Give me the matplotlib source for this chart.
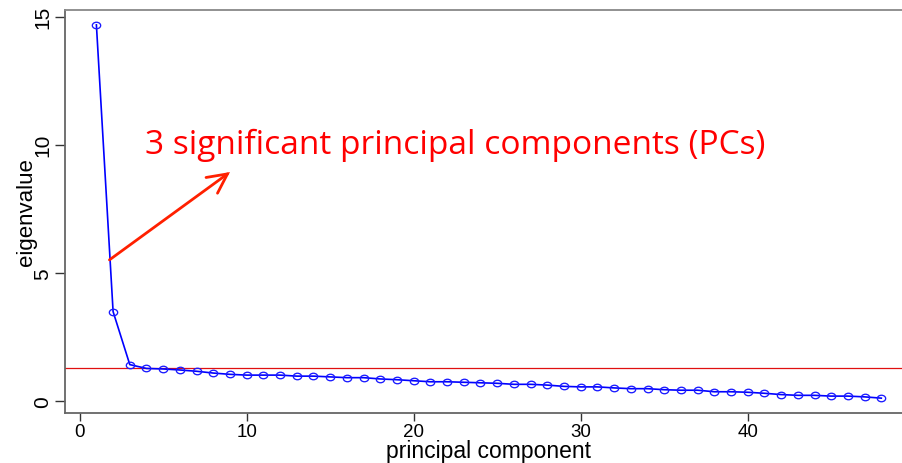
import numpy as np
import matplotlib
matplotlib.use("Agg")
import matplotlib.pyplot as plt
from matplotlib.path import Path

# ---- data ----
components = list(range(1, 49))
eigenvalues = [14.68, 3.48, 1.41, 1.26, 1.24, 1.20, 1.15, 1.08, 1.03, 1.00,
               1.00, 1.00, 0.96, 0.96, 0.93, 0.90, 0.90, 0.85, 0.82, 0.78,
               0.74, 0.74, 0.72, 0.70, 0.68, 0.64, 0.64, 0.61, 0.56, 0.54,
               0.54, 0.50, 0.47, 0.47, 0.43, 0.41, 0.41, 0.35, 0.35, 0.33,
               0.29, 0.24, 0.21, 0.21, 0.18, 0.18, 0.15, 0.10]
threshold = 1.27
x_ticks = [0, 10, 20, 30, 40]
y_ticks = [0, 5, 10, 15]
annotation_text = "3 significant principal components (PCs)"
arrow_start = (1.78, 5.50)
arrow_end = (9.0, 8.93)
text_pos = (3.92, 9.68)

W, H = 902, 464
fig = plt.figure(figsize=(W / 100, H / 100), dpi=100)
left_px, bottom_px, width_px, height_px = 65, 50, 847.7, 403
ax = fig.add_axes([left_px / W, bottom_px / H, width_px / W, height_px / H])

# elliptical open marker (reference is slightly squashed)
circ = Path.unit_circle()
ell = Path(circ.vertices * np.array([1.0, 0.78]), circ.codes)

ax.plot(components, eigenvalues, color="#0000ff", lw=1.2,
        marker=ell, markersize=6.0, markerfacecolor="none",
        markeredgecolor="#1a1aff", markeredgewidth=0.95, zorder=3)
ax.axhline(threshold, color="#e01010", lw=0.9, zorder=2)

ax.set_xlim(-0.88, 49.88)
ax.set_ylim(-0.48, 15.26)
ax.set_xticks(x_ticks)
ax.set_yticks(y_ticks)
ax.set_xticklabels([str(v) for v in x_ticks])
ax.set_yticklabels([str(v) for v in y_ticks])

for lab in ax.get_xticklabels():
    lab.set_fontsize(13.5)
    lab.set_fontfamily(["Liberation Sans", "DejaVu Sans"])
for lab in ax.get_yticklabels():
    lab.set_fontsize(15)
    lab.set_fontfamily(["Liberation Sans", "DejaVu Sans"])
    lab.set_rotation(90)
    lab.set_va("center")

ax.tick_params(axis="x", direction="out", length=5.5, width=1.0, color="#333333", pad=1.5)
ax.tick_params(axis="y", direction="out", length=7.5, width=1.0, color="#333333", pad=1.5)

for side, sp in ax.spines.items():
    sp.set_color("#666666")
    sp.set_linewidth(1.3)
ax.spines["top"].set_color("#888888")

ax.set_xlabel("principal component", fontsize=16.5,
              family=["Liberation Sans", "DejaVu Sans"], va="baseline")
ax.xaxis.set_label_coords(0.5, (H - 458.0 - bottom_px) / height_px)
ax.set_ylabel("eigenvalue", fontsize=16,
              family=["Liberation Sans", "DejaVu Sans"], va="center")
ax.yaxis.set_label_coords((26 - left_px) / width_px, 0.5)

ax.annotate("", xy=arrow_end, xytext=arrow_start,
            arrowprops=dict(arrowstyle="->,head_length=0.7,head_width=0.35",
                            color="#ff2000", lw=2.0, shrinkA=0, shrinkB=0,
                            mutation_scale=20, joinstyle="miter"),
            zorder=4)

txt = ax.text(text_pos[0], text_pos[1], annotation_text, color="#ff0000",
              fontsize=24, family=["Open Sans", "DejaVu Sans"],
              ha="left", va="baseline", zorder=5)

# fit annotation width to the reference (~621 px)
fig.canvas.draw()
bb = txt.get_window_extent()
txt.set_fontsize(24 * 621.0 / bb.width)

fig.savefig("out.png", dpi=100, facecolor="white")
